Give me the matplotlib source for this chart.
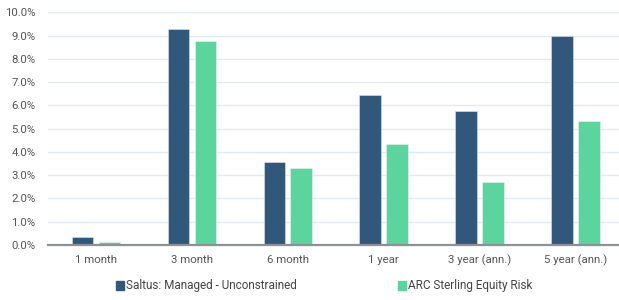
import numpy as np
import matplotlib
matplotlib.use('Agg')
import matplotlib.pyplot as plt
from matplotlib.patches import Patch
from matplotlib.ticker import FuncFormatter

plt.rcParams['font.family'] = ['Roboto', 'DejaVu Sans']

periods = ['1 month', '3 month', '6 month', '1 year', '3 year (ann.)', '5 year (ann.)']
saltus = [0.36, 9.27, 3.55, 6.46, 5.76, 8.98]
arc = [0.12, 8.78, 3.32, 4.34, 2.71, 5.32]
series_names = ['Saltus: Managed - Unconstrained', 'ARC Sterling Equity Risk']

dark = '#31587a'
green = '#5bd49e'

fig = plt.figure(figsize=(6.19, 3.0), dpi=100)
ax = fig.add_axes([48 / 619, 55 / 300, 575.4 / 619, 232.7 / 300])

x = np.arange(len(periods))
w = 0.224
ax.bar(x - 0.14, saltus, w, color=dark, edgecolor='#dfe7ee', linewidth=0.4, zorder=3)
ax.bar(x + 0.14, arc, w, color=green, edgecolor='#e6f5ee', linewidth=0.4, zorder=3)

ax.set_xlim(-0.5, len(periods) - 0.5)
ax.set_ylim(0, 10)
ax.set_yticks(np.arange(0, 11, 1))
ax.yaxis.set_major_formatter(FuncFormatter(lambda v, p: f'{v:.1f}%'))
ax.set_xticks(x)
ax.set_xticklabels(periods)

ax.grid(axis='y', color='#e1e9f1', linewidth=1.0, zorder=0)
ax.set_axisbelow(True)
for s in ['top', 'right', 'left']:
    ax.spines[s].set_visible(False)
ax.spines['bottom'].set_color('#8c9198')
ax.spines['bottom'].set_linewidth(1.6)
ax.spines['bottom'].set_zorder(4)
ax.tick_params(axis='both', length=0, labelsize=8.2, labelcolor='#555555')
ax.tick_params(axis='x', pad=7)
ax.tick_params(axis='y', pad=9)

handles = [Patch(color=dark), Patch(color=green)]
fig.legend(handles, series_names, loc='center', bbox_to_anchor=(324 / 619, 1 - 286 / 300),
           ncol=2, frameon=False, fontsize=8.5, handlelength=0.7, handleheight=0.7,
           handletextpad=0.15, columnspacing=8.6, borderpad=0, labelcolor='#444444')

fig.savefig('out.png', dpi=100)
